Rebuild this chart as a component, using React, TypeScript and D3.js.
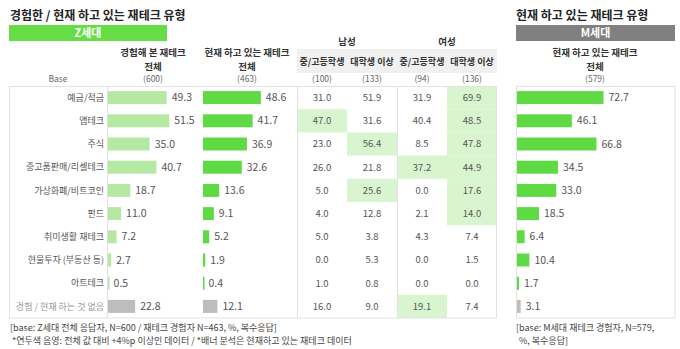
import React from "react";
import * as d3 from "d3";

const categories = ["예금/적금", "앱테크", "주식", "중고품판매/리셀테크", "가상화폐/비트코인", "펀드", "취미생활 재테크", "현물투자 (부동산 등)", "아트테크", "경험 / 현재 하는 것 없음"];
const zExperienced = [49.3, 51.5, 35.0, 40.7, 18.7, 11.0, 7.2, 2.7, 0.5, 22.8];
const zCurrent = [48.6, 41.7, 36.9, 32.6, 13.6, 9.1, 5.2, 1.9, 0.4, 12.1];
const maleMid = [31.0, 47.0, 23.0, 26.0, 5.0, 4.0, 5.0, 0.0, 1.0, 16.0];
const maleUni = [51.9, 31.6, 56.4, 21.8, 25.6, 12.8, 3.8, 5.3, 0.8, 9.0];
const femaleMid = [31.9, 40.4, 8.5, 37.2, 0.0, 2.1, 4.3, 0.0, 0.0, 19.1];
const femaleUni = [69.9, 48.5, 47.8, 44.9, 17.6, 14.0, 7.4, 1.5, 0.0, 7.4];
const mCurrent = [72.7, 46.1, 66.8, 34.5, 33.0, 18.5, 6.4, 10.4, 1.7, 3.1];
const subColumns = ["중/고등학생", "대학생 이상", "중/고등학생", "대학생 이상"];
const subBases = ["(100)", "(133)", "(94)", "(136)"];
const groups = ["남성", "여성"];

const FONT = "'Noto Sans CJK KR', 'Noto Sans', sans-serif";
const LIGHT = "#b5e8a3";
const GREEN = "#5fd944";
const GRAY = "#bdbdbd";
const HL = "#d8f5cf";
const TXT = "#555";

export default function App() {
  const y = d3.scaleBand<string>().domain(categories).range([86, 318]);
  const x = d3.scaleLinear().domain([0, 100]).range([0, 119]);
  const bh = 13;
  const cols = [maleMid, maleUni, femaleMid, femaleUni];
  const colX = [297, 347, 397, 447];
  const colW = 50;
  const last = categories.length - 1;

  const barCol = (vals: number[], x0: number, color: string, keyp: string) =>
    vals.map((v, i) => {
      const cy = (y(categories[i]) as number) + y.bandwidth() / 2;
      const w = x(v);
      return (
        <g key={keyp + i}>
          <rect x={x0} y={cy - bh / 2} width={Math.max(w, 1.5)} height={bh} fill={i === last ? GRAY : color} />
          <text x={x0 + w + 5} y={cy} dy="0.35em" fontSize={10.5} fill={TXT}>{v.toFixed(1)}</text>
        </g>
      );
    });

  return (
    <svg width={680} height={349} style={{ position: "absolute", left: 0, top: 0, fontFamily: FONT }}>
      <rect width={680} height={349} fill="#fff" />
      {/* Titles */}
      <text x={10} y={20} fontSize={12} fontWeight="bold" fill="#222">경험한 / 현재 하고 있는 재테크 유형</text>
      <text x={516} y={20} fontSize={12} fontWeight="bold" fill="#222">현재 하고 있는 재테크 유형</text>
      <rect x={9} y={25} width={158} height={16} fill="#66dd44" />
      <text x={88} y={33} dy="0.35em" textAnchor="middle" fontSize={11} fill="#fff" fontWeight="bold">Z세대</text>
      <rect x={516} y={25} width={159} height={16} fill="#808080" />
      <text x={595.5} y={33} dy="0.35em" textAnchor="middle" fontSize={11} fill="#fff" fontWeight="bold">M세대</text>

      {/* Column headers */}
      <g fontSize={9.5} fontWeight="bold" fill="#333" textAnchor="middle">
        <text x={153} y={56}>경험해 본 재테크</text>
        <text x={153} y={70}>전체</text>
        <text x={247} y={56}>현재 하고 있는 재테크</text>
        <text x={247} y={70}>전체</text>
        <text x={595} y={56}>현재 하고 있는 재테크</text>
        <text x={595} y={70}>전체</text>
      </g>
      <rect x={297} y={49} width={200} height={24} fill="#f0f0f0" />
      {groups.map((g, i) => (
        <text key={g} x={347 + i * 100} y={45} textAnchor="middle" fontSize={9.5} fontWeight="bold" fill="#333">{g}</text>
      ))}
      {subColumns.map((s, i) => (
        <text key={"s" + i} x={colX[i] + colW / 2} y={65} textAnchor="middle" fontSize={9} fontWeight="bold" fill="#333">{s}</text>
      ))}
      {/* Base row */}
      <g fontSize={8.5} fill="#666" textAnchor="middle">
        <text x={58} y={82}>Base</text>
        <text x={153} y={82}>(600)</text>
        <text x={247} y={82}>(463)</text>
        {subBases.map((b, i) => (
          <text key={"b" + i} x={colX[i] + colW / 2} y={82}>{b}</text>
        ))}
        <text x={595} y={82}>(579)</text>
      </g>

      {/* highlight cells */}
      {cols.map((vals, c) =>
        vals.map((v, i) =>
          v - zCurrent[i] >= 4 ? (
            <rect key={"h" + c + "-" + i} x={colX[c]} y={y(categories[i]) as number} width={colW} height={y.bandwidth()} fill={HL} />
          ) : null
        )
      )}

      {/* table borders */}
      <g stroke="#e2e2e2" strokeWidth={1} fill="none">
        <rect x={9.5} y={86.5} width={487} height={231.5} />
        <line x1={107.5} x2={107.5} y1={86} y2={318} />
        <line x1={297.5} x2={297.5} y1={86} y2={318} />
        <line x1={397.5} x2={397.5} y1={86} y2={318} />
        <rect x={516.5} y={86.5} width={158.5} height={231.5} />
      </g>

      {/* category labels */}
      {categories.map((c, i) => (
        <text key={c} x={104} y={(y(c) as number) + y.bandwidth() / 2} dy="0.35em" textAnchor="end" fontSize={9} fill={i === last ? "#999" : TXT}>{c}</text>
      ))}

      {barCol(zExperienced, 108, LIGHT, "e")}
      {barCol(zCurrent, 203, GREEN, "c")}
      {barCol(mCurrent, 517, GREEN, "m")}

      {cols.map((vals, c) =>
        vals.map((v, i) => (
          <text key={"t" + c + "-" + i} x={colX[c] + colW / 2} y={(y(categories[i]) as number) + y.bandwidth() / 2} dy="0.35em" textAnchor="middle" fontSize={9.5} fill={TXT}>{v.toFixed(1)}</text>
        ))
      )}

      {/* footnotes */}
      <g fontSize={9} fill="#444">
        <text x={10} y={331}>[base: Z세대 전체 응답자, N=600 / 재테크 경험자 N=463, %, 복수응답]</text>
        <text x={12} y={344}>*연두색 음영: 전체 값 대비 +4%p 이상인 데이터 / *배너 분석은 현재하고 있는 재테크 데이터</text>
        <text x={516} y={331}>[base: M세대 재테크 경험자, N=579,</text>
        <text x={519} y={344}>%, 복수응답]</text>
      </g>
    </svg>
  );
}
